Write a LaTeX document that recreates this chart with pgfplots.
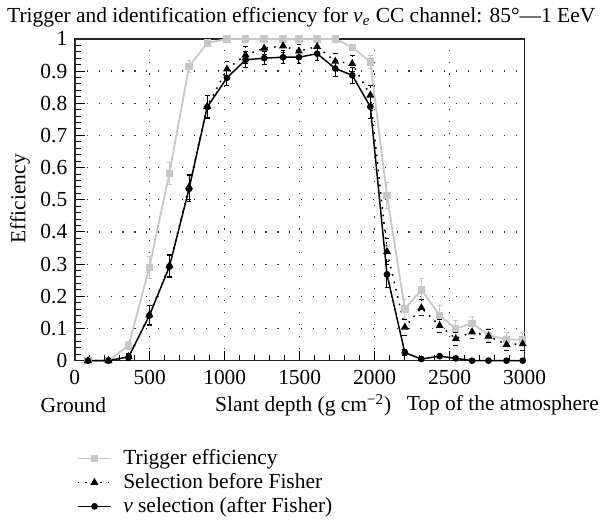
\documentclass[border=0pt]{standalone}
\usepackage{fontspec}
\setmainfont{Liberation Serif}
\newfontfamily\serif{Liberation Serif}
\usepackage{pgfplots}
\pgfplotsset{compat=1.18}
\usepackage{pgfplotstable}

\definecolor{trig}{rgb}{0.78,0.78,0.78}

% x  y  err
\pgfplotstableread{
x y e
88 0 0
225 0 0
360 0.048 0.012
497 0.289 0.035
631 0.582 0.035
762 0.914 0.02
883 0.987 0.008
1015 1 0
1139 1 0
1263 1 0
1389 1 0
1495 1 0
1616 1 0
1737 1 0
1850 0.974 0.01
1971 0.928 0.02
2082 0.513 0.04
2201 0.160 0.03
2311 0.220 0.035
2433 0.141 0.03
2541 0.099 0.025
2649 0.116 0.02
2759 0.079 0.02
2879 0.066 0.02
2987 0.066 0.02
}\trigger

\pgfplotstableread{
x y e
88 0 0
225 0 0
360 0.012 0.01
497 0.142 0.03
631 0.295 0.035
762 0.540 0.04
883 0.790 0.035
1015 0.906 0.025
1139 0.950 0.025
1263 0.971 0.02
1389 0.978 0.02
1495 0.962 0.02
1616 0.976 0.02
1737 0.930 0.025
1850 0.923 0.025
1971 0.825 0.03
2082 0.339 0.04
2201 0.104 0.025
2311 0.164 0.025
2433 0.109 0.02
2541 0.068 0.02
2649 0.089 0.02
2759 0.076 0.02
2879 0.050 0.02
2987 0.052 0.02
}\before

\pgfplotstableread{
x y e
88 0 0
225 0 0
360 0.012 0.008
497 0.140 0.03
631 0.292 0.035
762 0.534 0.04
883 0.788 0.035
1015 0.879 0.025
1139 0.935 0.025
1263 0.940 0.02
1389 0.943 0.02
1495 0.943 0.02
1616 0.954 0.02
1737 0.908 0.025
1850 0.887 0.025
1971 0.789 0.035
2082 0.268 0.04
2201 0.025 0.01
2311 0.005 0.005
2433 0.014 0.005
2541 0.007 0.005
2649 0 0
2759 0 0
2879 0 0
2987 0 0
}\after

\begin{document}
\serif\fontsize{10.8}{13}\selectfont
\begin{tikzpicture}[every node/.append style={font=\serif\fontsize{10.8}{13}\selectfont}]
\begin{axis}[
  at={(0pt,0pt)}, anchor=south west,
  scale only axis,
  width=226.5pt, height=162pt,
  xmin=0, xmax=3000, ymin=0, ymax=1,
  xtick={0,500,...,3000},
  xticklabels={0,500,1000,1500,2000,2500,3000},
  ytick={0,0.1,...,1},
  yticklabels={0,0.1,0.2,0.3,0.4,0.5,0.6,0.7,0.8,0.9,1},
  minor x tick num=4,
  minor y tick num=4,
  tick align=inside,
  xtick pos=bottom, ytick pos=left,
  major tick length=5pt, minor tick length=3pt,
  every tick/.style={black, line width=0.5pt},
  axis line style={line width=0.75pt, black!85},
  grid=major,
  major grid style={black!80, line width=0.6pt, dash pattern=on 0.6pt off 5.4pt},
  /pgf/number format/assume math mode=true,
  ticklabel style={font=\serif\fontsize{10.8}{13}\selectfont},
  xticklabel style={yshift=-1pt},
  clip=false,
  legend style={at={(-0.01,-0.25)}, anchor=north west, draw=none, fill=none,
    font=\serif\fontsize{10.8}{13}\selectfont, row sep=-1.2pt, column sep=3.5pt},
  legend cell align=left,
  error bars/error bar style={line width=0.5pt},
  error bars/error mark options={rotate=90, mark size=1.2pt, line width=0.5pt},
]
\addplot[trig, line width=0.9pt, mark=square*, mark size=1.4pt,
  error bars/.cd, y dir=both, y explicit]
  table[x=x, y=y, y error=e] {\trigger};
\addlegendentry{Trigger efficiency}
\addplot[black, line width=0.75pt, dash pattern=on 0.8pt off 3pt, mark=triangle*, mark size=1.6pt,
  mark options={solid},
  error bars/.cd, y dir=both, y explicit]
  table[x=x, y=y, y error=e] {\before};
\addlegendentry{Selection before Fisher}
\addplot[black, line width=0.75pt, mark=*, mark size=1.3pt,
  error bars/.cd, y dir=both, y explicit]
  table[x=x, y=y, y error=e] {\after};
\addlegendentry{{\itshape ν} selection (after Fisher)}
\end{axis}
\node at (114pt,173pt) {Trigger and identification efficiency for {\itshape ν}\textsubscript{\itshape e} CC channel: 85°—1 EeV};
\node[rotate=90] at (-27.5pt,81.5pt) {Efficiency};
\node at (-0.75pt,-22.5pt) {Ground};
\node at (115pt,-22.5pt) {Slant depth (g cm\textsuperscript{−2})};
\node at (215.5pt,-22.5pt) {Top of the atmosphere};
\path[use as bounding box] (-37.5pt,-83.5pt) rectangle (265.5pt,179pt);
\end{tikzpicture}
\end{document}
